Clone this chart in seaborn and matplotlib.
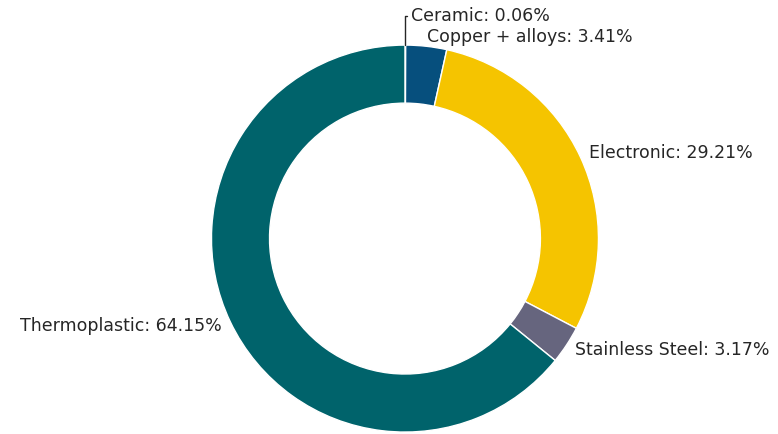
import numpy as np
import matplotlib
matplotlib.use('Agg')
import matplotlib.pyplot as plt
import seaborn as sns

# Material shares (%), clockwise from the top
materials = ['Ceramic', 'Copper + alloys', 'Electronic', 'Stainless Steel', 'Thermoplastic']
shares = [0.06, 3.41, 29.21, 3.17, 64.15]
colors = ['#9fd0de', '#064f7d', '#f5c400', '#66657e', '#00636b']

sns.set_theme(style='white')
plt.rcParams['font.family'] = ['DejaVu Sans']

fig = plt.figure(figsize=(7.78, 4.34), dpi=100)
ax = fig.add_axes([0, 0, 1, 1])

# the tiny ceramic slice gets its own label with a leader line
labels = ['' if m == 'Ceramic' else f'{m}: {s:.2f}%' for m, s in zip(materials, shares)]

wedges, texts = ax.pie(shares, labels=labels, colors=colors, startangle=90,
                       counterclock=False, labeldistance=1.05,
                       wedgeprops=dict(width=0.3, edgecolor='white', linewidth=1),
                       textprops=dict(fontsize=12.5, color='#262626'))

# Ceramic label above the ring, joined to its slice
w = wedges[0]
mid = np.deg2rad((w.theta1 + w.theta2) / 2)
ax.annotate(f'{materials[0]}: {shares[0]:.2f}%',
            xy=(np.cos(mid), np.sin(mid)), xytext=(0.03, 1.15),
            ha='left', va='center', fontsize=12.5, color='#262626',
            arrowprops=dict(arrowstyle='-', color='#262626', lw=1,
                            connectionstyle='angle,angleA=0,angleB=90,rad=0',
                            shrinkA=0, shrinkB=0))

# centre the ring where the reference has it
ax.set_xlim(-2.093, 1.928)
ax.set_ylim(-1.010, 1.233)
ax.set_aspect('equal')
ax.axis('off')

fig.savefig('out.png', dpi=100)
